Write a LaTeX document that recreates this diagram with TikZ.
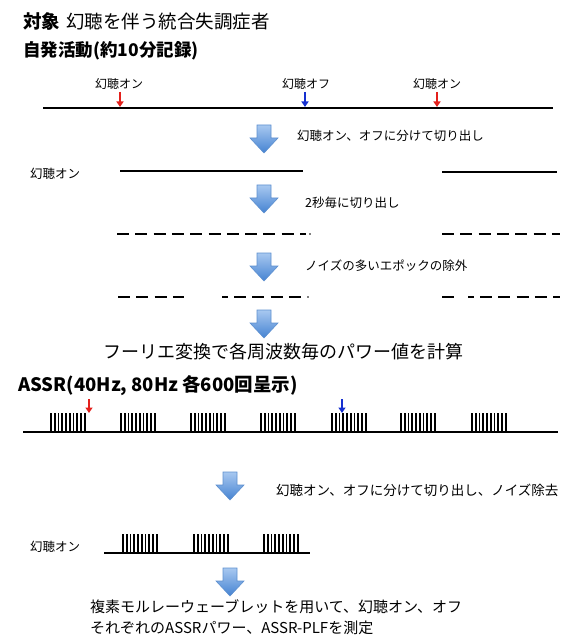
\documentclass[tikz,border=0pt]{standalone}
\usepackage{fontspec}
\setmainfont{Noto Sans CJK JP}
\usetikzlibrary{arrows.meta}
\definecolor{arrtop}{HTML}{A8C8F0}
\definecolor{arrbot}{HTML}{4583D2}
\definecolor{arredge}{HTML}{5E90CF}
\definecolor{mred}{HTML}{E3201C}
\definecolor{mblue}{HTML}{1530D0}
\tikzset{
  txt/.style={anchor=west,inner sep=0pt,text=black},
  tl/.style={line width=1.5pt,black},
  dsh/.style={line width=2pt,black,dash pattern=on 12pt off 6.3pt},
  mark arrow/.style={line width=2.8pt,-{Triangle[length=5.5pt,width=7pt]}},
  bar/.style={line width=1.8pt,black},
}
\newcommand{\blockarr}[2]{% center x, top y
  \shade[top color=arrtop,bottom color=arrbot,draw=arredge,line width=0.6pt]
   (#1-7,#2) -- (#1+7,#2) -- (#1+7,#2+13) -- (#1+14,#2+13) -- (#1,#2+28)
   -- (#1-14,#2+13) -- (#1-7,#2+13) -- cycle;}
\newcommand{\burst}[3]{% start x, top y, base y
  \foreach \k in {0,...,9}{\draw[bar] ({#1+0.9+\k*3.75},#2) -- ({#1+0.9+\k*3.75},#3);}}
\begin{document}
\begin{tikzpicture}[x=1pt,y=-1pt]
\useasboundingbox (0,0) rectangle (560,636);
% titles
\node[txt,font=\fontsize{18.5}{20}\selectfont] (t1) at (23,21) {\textbf{対象}\hspace{6pt}幻聴を伴う統合失調症者};
\node[txt,font=\bfseries\fontsize{17.5}{20}\selectfont] (t2) at (23,51) {自発活動(約10分記録)};
% first timeline
\node[txt,font=\fontsize{12}{14}\selectfont] (l1) at (95,84) {幻聴オン};
\node[txt,font=\fontsize{12}{14}\selectfont] (l2) at (282,84) {幻聴オフ};
\node[txt,font=\fontsize{12}{14}\selectfont] (l3) at (413,84) {幻聴オン};
\coordinate (tlA) at (43,108);
\coordinate (tlB) at (553,108);
\draw[tl] (tlA) -- (tlB);
\coordinate (r1a) at (120,92); \coordinate (r1b) at (120,107);
\coordinate (b1a) at (305,92); \coordinate (b1b) at (305,107);
\coordinate (r2a) at (437,92); \coordinate (r2b) at (437,107);
\draw[mark arrow,mred] (r1a) -- (r1b);
\draw[mark arrow,mblue] (b1a) -- (b1b);
\draw[mark arrow,mred] (r2a) -- (r2b);
% step 1
\blockarr{264}{125}
\node[txt,font=\fontsize{12.5}{14}\selectfont] (s1) at (297,136) {幻聴オン、オフに分けて切り出し};
\node[txt,font=\fontsize{12.5}{14}\selectfont] (l4) at (30,174) {幻聴オン};
\coordinate (sa1) at (120,171); \coordinate (sa2) at (303,171);
\coordinate (sb1) at (442,172); \coordinate (sb2) at (557,172);
\draw[tl] (sa1) -- (sa2);
\draw[tl] (sb1) -- (sb2);
% step 2
\blockarr{264}{185}
\node[txt,font=\fontsize{12.5}{14}\selectfont] (s2) at (305,203) {2秒毎に切り出し};
\coordinate (da1) at (117,234); \coordinate (da2) at (306,234);
\coordinate (db1) at (442,234); \coordinate (db2) at (560,234);
\draw[dsh] (da1) -- (da2);
\fill (310,234) circle (0.8pt);
\draw[dsh] (db1) -- (db2);
% step 3
\blockarr{264}{253}
\node[txt,font=\fontsize{12.5}{14}\selectfont] (s3) at (305,266) {ノイズの多いエポックの除外};
\coordinate (ea1) at (118,297); \coordinate (ea2) at (184,297);
\coordinate (ec1) at (222,297); \coordinate (ec2) at (228,297);
\coordinate (ed1) at (234,297); \coordinate (ed2) at (304,297);
\coordinate (eb1) at (442,297); \coordinate (eb2) at (454,297);
\coordinate (ee1) at (468,297); \coordinate (ee2) at (560,297);
\draw[dsh] (ea1) -- (ea2);
\draw[line width=2pt] (ec1) -- (ec2);
\draw[dsh] (ed1) -- (ed2);
\fill (308,297) circle (0.8pt);
\draw[line width=2pt] (eb1) -- (eb2);
\draw[dsh,dash pattern=on 6pt off 6pt on 12pt off 6.3pt on 12pt off 6.3pt on 12pt off 6.3pt on 12pt off 6.3pt on 12pt off 6.3pt] (ee1) -- (ee2);
% step 4
\blockarr{264}{310}
\node[txt,font=\fontsize{18}{20}\selectfont] (s4) at (103,352) {フーリエ変換で各周波数毎のパワー値を計算};
% ASSR
\node[txt,font=\bfseries\fontsize{18.5}{20}\selectfont] (t3) at (18,386) {ASSR(40Hz, 80Hz 各600回呈示)};
\coordinate (aA) at (23,432); \coordinate (aB) at (558,432);
\draw[tl] (aA) -- (aB);
\foreach \s in {50,120,190,260,331,400,471}{\burst{\s}{413}{432}}
\coordinate (r3a) at (89,399); \coordinate (r3b) at (89,413);
\coordinate (b3a) at (342,399); \coordinate (b3b) at (342,413);
\draw[mark arrow,mred] (r3a) -- (r3b);
\draw[mark arrow,mblue] (b3a) -- (b3b);
% step 5
\blockarr{230}{472}
\node[txt,font=\fontsize{13.5}{16}\selectfont] (s5) at (276,490) {幻聴オン、オフに分けて切り出し、ノイズ除去};
\node[txt,font=\fontsize{12.5}{14}\selectfont] (l5) at (30,547) {幻聴オン};
\coordinate (cA) at (104,553); \coordinate (cB) at (310,553);
\draw[tl] (cA) -- (cB);
\foreach \s in {122,193,263}{\burst{\s}{534}{553}}
% step 6
\blockarr{230}{568}
\node[txt,font=\fontsize{15}{18}\selectfont] (s6) at (90,607) {複素モルレーウェーブレットを用いて、幻聴オン、オフ};
\node[txt,font=\fontsize{15}{18}\selectfont] (s7) at (90,628) {それぞれのASSRパワー、ASSR-PLFを測定};
\end{tikzpicture}
\end{document}
